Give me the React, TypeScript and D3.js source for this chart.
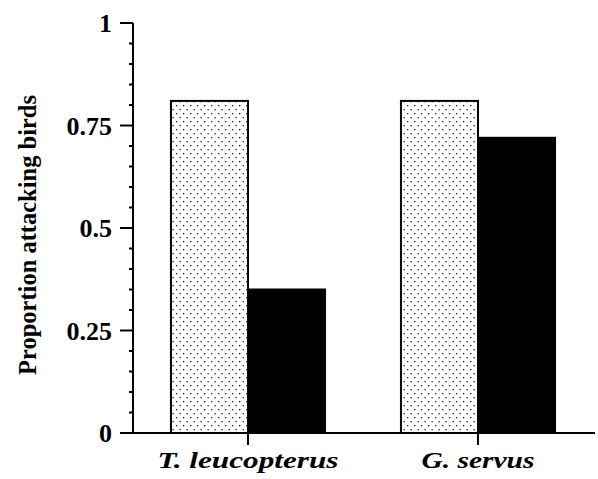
import React from "react";
import * as d3 from "d3";

const categories = ["T. leucopterus", "G. servus"];
const seriesKeys = ["control", "treatment"];
const controlValues = [0.81, 0.81];
const treatmentValues = [0.35, 0.72];
const yTicks = [0, 0.25, 0.5, 0.75, 1];
const yTickLabels = ["0", "0.25", "0.5", "0.75", "1"];
const categoryLabelWidths = [181, 113];

export default function App() {
  const W = 598, H = 479;
  const x0 = 133, x1 = 595, yTop = 23, yBot = 433;
  const x = d3.scaleBand<string>().domain(categories).range([x0, x0 + 460]).paddingInner(0.33).paddingOuter(0.165);
  const xs = d3.scaleBand<string>().domain(seriesKeys).range([0, x.bandwidth()]);
  const y = d3.scaleLinear().domain([0, 1]).range([yBot, yTop]);
  const minor = d3.range(0, 1.0001, 0.05).filter((v) => !yTicks.some((t) => Math.abs(t - v) < 1e-6));
  const font = "'Liberation Serif', 'Times New Roman', serif";
  const data = categories.map((c, i) => ({ c, vals: [controlValues[i], treatmentValues[i]] }));
  return (
    <svg width={W} height={H} style={{ position: "absolute", left: 0, top: 0, background: "#fff" }}>
      <defs>
        <pattern id="stip" width="7" height="8" patternUnits="userSpaceOnUse">
          <rect width="7" height="8" fill="#fff" />
          <rect x="1" y="1" width="1.3" height="1.3" fill="#222" />
          <rect x="4.5" y="5" width="1.3" height="1.3" fill="#222" />
        </pattern>
      </defs>
      {data.map((d) =>
        d.vals.map((v, j) => {
          const bx = (x(d.c) as number) + (xs(seriesKeys[j]) as number);
          return (
            <rect
              key={d.c + j}
              x={bx}
              y={y(v)}
              width={xs.bandwidth()}
              height={yBot - y(v)}
              fill={j === 0 ? "url(#stip)" : "#000"}
              stroke="#000"
              strokeWidth={2}
            />
          );
        })
      )}
      <line x1={x0} x2={x0} y1={yTop} y2={yBot} stroke="#000" strokeWidth={2} />
      {yTicks.map((t, i) => (
        <g key={t}>
          <line x1={x0 - 13} x2={x0} y1={y(t)} y2={y(t)} stroke="#000" strokeWidth={2} />
          <text x={x0 - 21} y={y(t)} dy="0.35em" textAnchor="end" fontFamily={font} fontWeight="bold" fontSize={26}>
            {yTickLabels[i]}
          </text>
        </g>
      ))}
      {minor.map((t) => (
        <line key={t} x1={x0 - 4} x2={x0} y1={y(t)} y2={y(t)} stroke="#000" strokeWidth={2} />
      ))}
      <line x1={x0} x2={x1} y1={yBot} y2={yBot} stroke="#000" strokeWidth={2} />
      {categories.map((c, i) => {
        const cx = (x(c) as number) + x.bandwidth() / 2;
        return (
          <g key={c}>
            <line x1={cx} x2={cx} y1={yBot} y2={yBot + 12} stroke="#000" strokeWidth={2} />
            <text
              x={cx - categoryLabelWidths[i] / 2}
              y={468}
              textLength={categoryLabelWidths[i]}
              lengthAdjust="spacingAndGlyphs"
              fontFamily={font}
              fontWeight="bold"
              fontStyle="italic"
              fontSize={24}
            >
              {c}
            </text>
          </g>
        );
      })}
      <text
        transform={`translate(36,235) rotate(-90)`}
        textAnchor="middle"
        fontFamily={font}
        fontWeight="bold"
        fontSize={24.5}
      >
        Proportion attacking birds
      </text>
    </svg>
  );
}
